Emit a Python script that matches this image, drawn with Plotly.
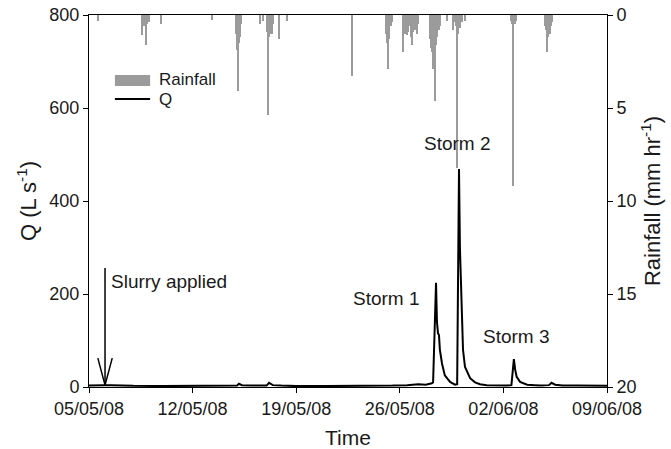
import plotly.graph_objects as go

# ---- data ----
rain_time = [
    "2008-05-05 15:00", "2008-05-08 14:00", "2008-05-08 17:00", "2008-05-08 20:00",
    "2008-05-08 22:00", "2008-05-09 00:00", "2008-05-09 01:00", "2008-05-09 21:00",
    "2008-05-13 07:00", "2008-05-14 22:00", "2008-05-15 00:00", "2008-05-15 02:00",
    "2008-05-15 03:00", "2008-05-15 05:00", "2008-05-15 06:00", "2008-05-16 13:00",
    "2008-05-16 18:00", "2008-05-17 01:00", "2008-05-17 02:00", "2008-05-17 04:00",
    "2008-05-17 05:00", "2008-05-17 07:00", "2008-05-17 08:00", "2008-05-17 10:00",
    "2008-05-17 20:00", "2008-05-18 09:00", "2008-05-22 18:00",
    "2008-05-25 02:00", "2008-05-25 03:00", "2008-05-25 05:00", "2008-05-25 06:00",
    "2008-05-25 07:00", "2008-05-25 09:00", "2008-05-25 11:00",
    "2008-05-26 05:00", "2008-05-26 07:00", "2008-05-26 08:00", "2008-05-26 10:00",
    "2008-05-26 11:00", "2008-05-26 13:00", "2008-05-26 17:00", "2008-05-26 18:00",
    "2008-05-26 20:00", "2008-05-26 21:00", "2008-05-26 23:00", "2008-05-27 01:00",
    "2008-05-27 02:00", "2008-05-27 04:00", "2008-05-27 05:00",
    "2008-05-28 01:00", "2008-05-28 02:00", "2008-05-28 04:00", "2008-05-28 06:00",
    "2008-05-28 07:00", "2008-05-28 09:00", "2008-05-28 10:00", "2008-05-28 12:00",
    "2008-05-28 13:00", "2008-05-28 15:00", "2008-05-28 17:00",
    "2008-05-29 05:00", "2008-05-29 14:00", "2008-05-29 17:00", "2008-05-29 19:00",
    "2008-05-29 21:00", "2008-05-29 22:00", "2008-05-30 00:00", "2008-05-30 01:00",
    "2008-05-30 05:00", "2008-05-30 10:00",
    "2008-06-02 12:00", "2008-06-02 14:00", "2008-06-02 16:00", "2008-06-02 17:00",
    "2008-06-02 19:00", "2008-06-02 20:00",
    "2008-06-04 19:00", "2008-06-04 21:00", "2008-06-04 23:00", "2008-06-05 00:00",
    "2008-06-05 02:00", "2008-06-05 03:00", "2008-06-05 05:00", "2008-06-05 07:00",
]
rain_mm = [
    0.3, 1.1, 0.6, 1.6,
    0.5, 0.4, 0.4, 0.5,
    0.25, 1.0, 1.9, 4.1,
    1.5, 1.2, 0.5, 0.5,
    0.3, 0.9, 5.4, 1.2,
    1.0, 0.8, 1.0, 0.5,
    1.3, 0.3, 3.3,
    1.0, 1.5, 2.9, 1.3,
    1.0, 0.6, 0.4,
    2.0, 0.9, 1.0, 0.7,
    1.1, 0.9, 0.6, 1.2,
    1.6, 0.9, 0.8, 0.8,
    0.6, 1.0, 0.5,
    1.3, 1.8, 2.0, 2.9,
    1.5, 4.6, 1.6, 1.2,
    1.0, 0.8, 0.6,
    0.3, 0.8, 0.4, 0.6,
    8.2, 1.0, 0.6, 0.7,
    0.4, 0.3,
    0.3, 0.5, 9.2, 0.4,
    0.5, 0.3,
    0.6, 0.8, 2.0, 1.2,
    0.8, 1.0, 0.6, 0.4,
]

q_time = [
    "2008-05-05 00:00", "2008-05-05 12:00", "2008-05-06 00:00", "2008-05-06 12:00",
    "2008-05-07 00:00", "2008-05-08 00:00", "2008-05-10 00:00", "2008-05-12 00:00",
    "2008-05-14 00:00", "2008-05-15 00:00", "2008-05-15 03:00", "2008-05-15 08:00",
    "2008-05-16 00:00", "2008-05-17 00:00", "2008-05-17 04:00", "2008-05-17 10:00",
    "2008-05-18 00:00", "2008-05-19 00:00", "2008-05-21 00:00", "2008-05-23 00:00",
    "2008-05-25 00:00", "2008-05-25 12:00", "2008-05-26 12:00", "2008-05-27 06:00",
    "2008-05-27 18:00", "2008-05-28 00:00", "2008-05-28 04:00",
    "2008-05-28 06:00", "2008-05-28 07:30", "2008-05-28 10:00", "2008-05-28 10:45",
    "2008-05-28 12:15", "2008-05-28 14:00", "2008-05-28 15:30", "2008-05-28 17:00",
    "2008-05-28 20:30", "2008-05-29 01:00", "2008-05-29 09:30", "2008-05-29 17:30",
    "2008-05-29 21:00", "2008-05-29 22:30", "2008-05-30 00:00", "2008-05-30 01:30",
    "2008-05-30 04:15", "2008-05-30 06:30", "2008-05-30 09:45", "2008-05-30 18:00",
    "2008-05-31 02:00", "2008-05-31 10:00", "2008-05-31 21:00", "2008-06-01 12:00",
    "2008-06-02 06:00", "2008-06-02 13:00", "2008-06-02 15:00", "2008-06-02 17:00",
    "2008-06-02 19:00", "2008-06-02 21:30", "2008-06-03 03:00", "2008-06-03 14:30",
    "2008-06-04 03:00", "2008-06-04 12:00", "2008-06-05 02:00", "2008-06-05 06:00",
    "2008-06-05 12:00", "2008-06-06 00:00", "2008-06-07 00:00", "2008-06-08 00:00",
    "2008-06-09 00:00",
]
q_val = [
    3, 4, 4, 4,
    3, 2.5, 2, 2,
    2, 3, 7, 4,
    3, 3, 9, 4,
    3, 2, 2, 2,
    2, 3, 4, 6,
    5, 6, 8,
    10, 80, 200, 224,
    140, 115, 112, 80,
    50, 25, 11, 5,
    6, 200, 469, 300,
    144, 80, 43, 19,
    10, 6, 4, 3,
    3, 4, 30, 60,
    38, 22, 11, 5,
    4, 3, 4, 9,
    5, 3, 3, 2,
    2.5,
]

# slurry arrow (shaft and open head), in data units
arrow_shaft_t = ["2008-05-06 02:00", "2008-05-06 02:00"]
arrow_shaft_q = [256, 4]
arrow_head_t = ["2008-05-05 14:20", "2008-05-06 02:00", "2008-05-06 13:40"]
arrow_head_q = [62, 4, 62]

tick_dates = ["2008-05-05", "2008-05-12", "2008-05-19", "2008-05-26", "2008-06-02", "2008-06-09"]
tick_labels = ["05/05/08", "12/05/08", "19/05/08", "26/05/08", "02/06/08", "09/06/08"]

storm_names = ["Storm 1", "Storm 2", "Storm 3"]
storm_t = ["2008-05-25 02:00", "2008-05-29 21:00", "2008-06-02 22:00"]
storm_q = [191, 523, 108]

FONT = "Liberation Sans, Arial, sans-serif"
TXT = "#1a1a1a"
GREY = "#9b9b9b"

fig = go.Figure()

fig.add_trace(go.Bar(
    x=rain_time, y=rain_mm, width=1.6 * 3600 * 1000,
    marker=dict(color=GREY, line=dict(width=0)),
    yaxis="y", name="Rainfall", showlegend=False,
))
fig.add_trace(go.Scatter(
    x=q_time, y=q_val, mode="lines", line=dict(color="black", width=2),
    yaxis="y2", name="Q", showlegend=False,
))
fig.add_trace(go.Scatter(
    x=arrow_shaft_t, y=arrow_shaft_q, mode="lines", line=dict(color="black", width=1.5),
    yaxis="y2", showlegend=False, hoverinfo="skip",
))
fig.add_trace(go.Scatter(
    x=arrow_head_t, y=arrow_head_q, mode="lines", line=dict(color="black", width=1.5),
    yaxis="y2", showlegend=False, hoverinfo="skip",
))

annotations = [
    dict(x="2008-05-06 08:00", y=226, xref="x", yref="y2", text="Slurry applied",
         showarrow=False, xanchor="left", yanchor="middle",
         font=dict(size=19, color=TXT, family=FONT)),
]
for name, t, q in zip(storm_names, storm_t, storm_q):
    annotations.append(dict(x=t, y=q, xref="x", yref="y2", text=name, showarrow=False,
                            xanchor="center", yanchor="middle",
                            font=dict(size=19, color=TXT, family=FONT)))

# custom legend
annotations += [
    dict(x=0.131, y=0.826, xref="paper", yref="paper", text="Rainfall", showarrow=False,
         xanchor="left", yanchor="middle", font=dict(size=17, color=TXT, family=FONT)),
    dict(x=0.131, y=0.772, xref="paper", yref="paper", text="Q", showarrow=False,
         xanchor="left", yanchor="middle", font=dict(size=17, color=TXT, family=FONT)),
]
shapes = [
    dict(type="rect", xref="paper", yref="paper", x0=0.050, x1=0.118, y0=0.809, y1=0.839,
         fillcolor=GREY, line=dict(width=0)),
    dict(type="line", xref="paper", yref="paper", x0=0.050, x1=0.118, y0=0.774, y1=0.774,
         line=dict(color="black", width=2)),
]

fig.update_layout(
    width=671, height=449,
    margin=dict(l=89, r=64, t=15, b=62, autoexpand=False),
    paper_bgcolor="white", plot_bgcolor="white",
    font=dict(family=FONT, color=TXT, size=18),
    showlegend=False,
    bargap=0,
    xaxis=dict(
        type="date", range=["2008-05-05", "2008-06-09"],
        tickvals=tick_dates, ticktext=tick_labels,
        showline=True, linecolor="black", linewidth=1, mirror=True,
        ticks="outside", ticklen=5, tickcolor="black",
        showgrid=False, zeroline=False, automargin=False,
        tickfont=dict(size=18, color=TXT),
        title=dict(text="Time", font=dict(size=21, color=TXT), standoff=12),
    ),
    yaxis=dict(
        side="right", range=[20, 0], tickvals=[0, 5, 10, 15, 20],
        showline=True, linecolor="black", linewidth=1,
        ticks="outside", ticklen=5, tickcolor="black",
        showgrid=False, zeroline=False, automargin=False,
        tickfont=dict(size=18, color=TXT),
        title=dict(text="Rainfall (mm hr<sup>-1</sup>)", font=dict(size=22, color=TXT), standoff=8),
    ),
    yaxis2=dict(
        side="left", overlaying="y", range=[0, 800], tickvals=[0, 200, 400, 600, 800],
        showline=True, linecolor="black", linewidth=1,
        ticks="outside", ticklen=5, tickcolor="black",
        showgrid=False, zeroline=False, automargin=False,
        tickfont=dict(size=18, color=TXT),
        title=dict(text="Q (L s<sup>-1</sup>)", font=dict(size=22, color=TXT), standoff=6),
    ),
    annotations=annotations,
    shapes=shapes,
)

# remove the browser's default 8px body margin so the figure fills the window
fig.write_html("out.html", config={"displayModeBar": False},
               post_script="document.body.style.margin='0px';")
